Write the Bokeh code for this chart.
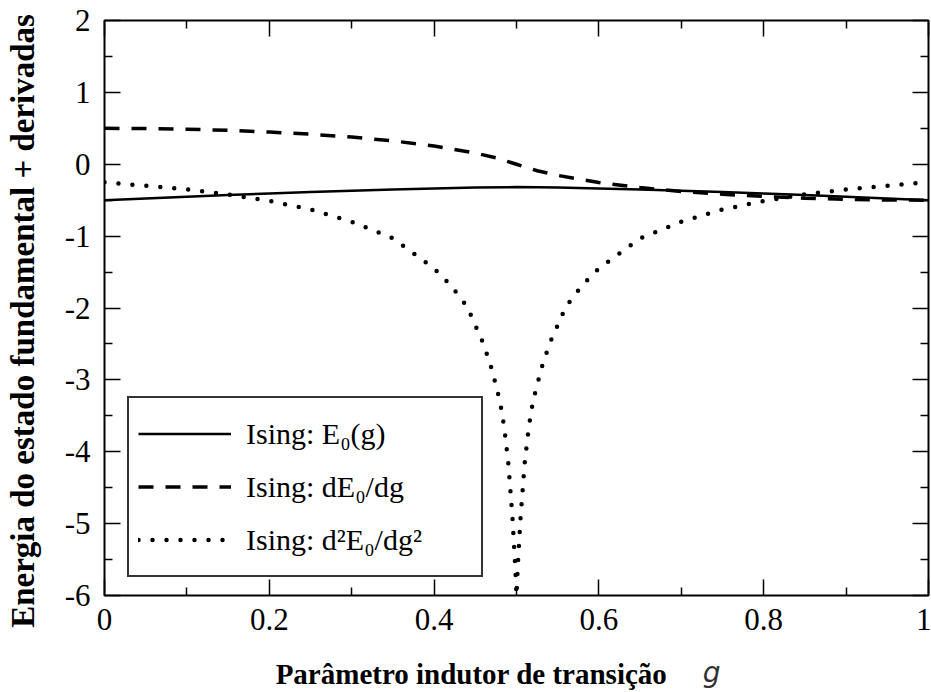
import math
from bokeh.plotting import figure
from bokeh.models import (Range1d, LinearAxis, FixedTicker, Legend, LegendItem)
from bokeh.embed import file_html
from bokeh.resources import INLINE

# ---- data ----
g_e0 = [0.0, 0.05, 0.1, 0.15, 0.2, 0.25, 0.3, 0.35, 0.4, 0.45, 0.5,
        0.55, 0.6, 0.65, 0.7, 0.75, 0.8, 0.85, 0.9, 0.95, 1.0]
e0 = [-0.500, -0.475, -0.452, -0.429, -0.407, -0.386, -0.367, -0.351, -0.338, -0.325, -0.318,
      -0.325, -0.338, -0.351, -0.367, -0.386, -0.407, -0.429, -0.452, -0.475, -0.500]

g_d1 = [0.0, 0.05, 0.1, 0.15, 0.2, 0.25, 0.3, 0.35, 0.4, 0.45, 0.475, 0.5,
        0.525, 0.55, 0.6, 0.65, 0.7, 0.75, 0.8, 0.85, 0.9, 0.95, 1.0]
d1 = [0.500, 0.497, 0.488, 0.472, 0.448, 0.418, 0.378, 0.325, 0.255, 0.155, 0.090, 0.000,
      -0.090, -0.155, -0.255, -0.325, -0.378, -0.418, -0.448, -0.472, -0.488, -0.497, -0.500]

g_d2 = [0.0, 0.05, 0.1, 0.15, 0.2, 0.25, 0.3, 0.35, 0.4, 0.42, 0.44, 0.46, 0.47, 0.48,
        0.485, 0.49, 0.495, 0.4985, 0.5, 0.5015, 0.505, 0.51, 0.515, 0.52, 0.53, 0.54,
        0.56, 0.58, 0.6, 0.65, 0.7, 0.75, 0.8, 0.85, 0.9, 0.95, 1.0]
d2 = [-0.25, -0.30, -0.35, -0.42, -0.51, -0.63, -0.80, -1.03, -1.45, -1.68, -1.98, -2.50, -2.85, -3.30,
      -3.65, -4.15, -4.90, -5.60, -6.00, -5.60, -4.90, -4.15, -3.65, -3.30, -2.85, -2.50,
      -1.98, -1.68, -1.45, -1.03, -0.80, -0.63, -0.51, -0.42, -0.35, -0.30, -0.25]

labels = ["Ising: E\u2080(g)", "Ising: dE\u2080/dg", "Ising: d\u00b2E\u2080/dg\u00b2"]
x_ticks = [0, 0.2, 0.4, 0.6, 0.8, 1.0]
x_tick_labels = ["0", "0.2", "0.4", "0.6", "0.8", "1"]
y_ticks = [-6, -5, -4, -3, -2, -1, 0, 1, 2]
y_tick_labels = ["-6", "-5", "-4", "-3", "-2", "-1", "0", "1", "2"]
x_minor = [0.1, 0.3, 0.5, 0.7, 0.9]
y_minor = [-5.5, -4.5, -3.5, -2.5, -1.5, -0.5, 0.5, 1.5]
x_title = "Parâmetro indutor de transição"
x_symbol = "g"
y_title = "Energia do estado fundamental + derivadas"

SERIF = "Liberation Serif"

p = figure(width=931, height=692, output_backend="svg", toolbar_location=None,
           x_range=Range1d(0, 1), y_range=Range1d(-6, 2),
           x_axis_location=None, y_axis_location=None,
           min_border_left=104, min_border_right=3, min_border_top=20, min_border_bottom=96)
p.background_fill_color = "white"
p.border_fill_color = "white"
p.outline_line_color = "black"
p.outline_line_width = 2
p.grid.visible = False

def make_axis(show_labels, ticks, minor, labs):
    ax = LinearAxis(ticker=FixedTicker(ticks=ticks, minor_ticks=minor))
    ax.axis_line_color = None
    ax.major_tick_in = 16
    ax.major_tick_out = 0
    ax.minor_tick_in = 8
    ax.minor_tick_out = 0
    ax.major_tick_line_color = "black"
    ax.minor_tick_line_color = "black"
    ax.major_tick_line_width = 1.5
    ax.minor_tick_line_width = 1.5
    ax.major_label_text_font = SERIF
    ax.major_label_text_font_size = "31px"
    ax.major_label_text_color = "black"
    if show_labels:
        ax.major_label_overrides = {t: l for t, l in zip(ticks, labs)}
    else:
        ax.major_label_overrides = {t: "" for t in ticks}
        ax.major_label_standoff = 0
    return ax

def title_axis(pos, text, font, style, size, color, standoff):
    # an axis without line or ticks, used only to place one title text
    ax = LinearAxis(ticker=FixedTicker(ticks=[pos], minor_ticks=[]))
    ax.axis_line_color = None
    ax.major_tick_line_color = None
    ax.minor_tick_line_color = None
    ax.major_tick_in = 0
    ax.major_tick_out = 0
    ax.major_label_overrides = {pos: text}
    ax.major_label_text_font = font
    ax.major_label_text_font_style = style
    ax.major_label_text_font_size = size
    ax.major_label_text_color = color
    ax.major_label_standoff = standoff
    return ax

xb = make_axis(True, x_ticks, x_minor, x_tick_labels)
xb.major_label_standoff = 13
yl = make_axis(True, y_ticks, y_minor, y_tick_labels)
yl.major_label_standoff = 14
xt = make_axis(False, x_ticks, x_minor, x_tick_labels)
yr = make_axis(False, y_ticks, y_minor, y_tick_labels)
p.add_layout(xb, "below")
p.add_layout(yl, "left")
p.add_layout(xt, "above")
p.add_layout(yr, "right")

# y title, slightly below the frame's middle as in the reference
ytitle = title_axis(-2.18, y_title, SERIF, "bold", "33px", "black", 21)
ytitle.major_label_orientation = "vertical"
p.add_layout(ytitle, "left")

# x title row: main text and italic symbol on the same line
xtitle = title_axis(0.4454, x_title, SERIF, "bold", "29px", "black", 25)
xsym = title_axis(0.7367, x_symbol, "DejaVu Sans", "italic", "28px", "#333333", -37)
p.add_layout(xtitle, "below")
p.add_layout(xsym, "below")

r1 = p.line(g_e0, e0, line_color="black", line_width=2.5)
r2 = p.line(g_d1, d1, line_color="black", line_width=3.5, line_dash="15 12")
r3 = p.line(g_d2, d2, line_color="black", line_width=4.5, line_dash="0 14", line_cap="round")

legend = Legend(items=[LegendItem(label=labels[0], renderers=[r1]),
                       LegendItem(label=labels[1], renderers=[r2]),
                       LegendItem(label=labels[2], renderers=[r3])],
                location=(23, 18), orientation="vertical")
legend.label_text_font = SERIF
legend.label_text_font_size = "30px"
legend.label_text_color = "black"
legend.glyph_width = 93
legend.glyph_height = 53
legend.label_height = 53
legend.label_width = 226
legend.label_standoff = 15
legend.spacing = 0
legend.padding = 9
legend.margin = 0
legend.border_line_color = "#333333"
legend.border_line_alpha = 1
legend.border_line_width = 2
legend.background_fill_color = "white"
legend.background_fill_alpha = 1
p.add_layout(legend, "center")

open("out.html", "w").write(file_html(p, INLINE))
